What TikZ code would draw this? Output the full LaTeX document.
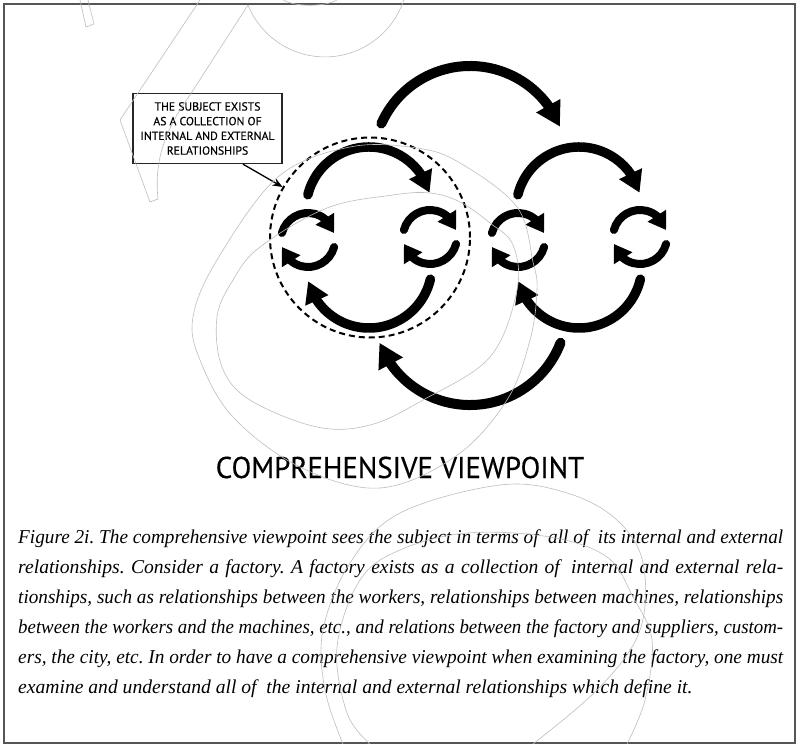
\documentclass[tikz,border=0pt]{standalone}
\usepackage{fontspec}
\setmainfont{Liberation Serif}
\newfontfamily\labelfont[FakeBold=0.3]{PT Sans}
\newfontfamily\headfont[FakeBold=0.4]{PT Sans}
\usetikzlibrary{arrows.meta,bending}
\frenchspacing

\definecolor{framegray}{HTML}{555555}
\definecolor{ghostgray}{HTML}{BEBEBE}

\tikzset{
  bigarc/.style={line width=10pt, line cap=round, -{Triangle[length=24pt,width=26pt]}},
  midarc/.style={line width=9.5pt, line cap=round, -{Triangle[length=21pt,width=24pt]}},
  spinarc/.style={line width=8pt, line cap=round, -{Triangle[length=17pt,width=21pt]}},
  ghost/.style={draw=ghostgray, line width=0.6pt},
  capstyle/.style={anchor=base west, inner sep=0pt, font=\itshape\fontsize{19.6}{30}\selectfont},
  spin/.pic={
    \draw[spinarc] (165:27) arc[start angle=165,end angle=15,radius=27];
    \draw[spinarc] (-15:27) arc[start angle=-15,end angle=-165,radius=27];
  },
}
% a justified caption line: spread when short, squeezed when long
\newcommand\capline[1]{\sbox0{#1}\ifdim\wd0>760pt\resizebox{765pt}{\height}{#1}\else\makebox[765pt][s]{#1}\fi}

\begin{document}
\begin{tikzpicture}[x=1pt,y=1pt]
\useasboundingbox (0,0) rectangle (796,-744);
\fill[white] (0,0) rectangle (796,-744);
\draw[framegray, line width=2pt] (4,-4) rectangle (795,-743);

% centres of the arcs
\coordinate (ot) at (470,-163);
\coordinate (ob) at (470,-308);
\coordinate (t1) at (369,-210);
\coordinate (b1) at (369,-265);
\coordinate (t2) at (579,-210);
\coordinate (b2) at (579,-265);

% the subject (dashed boundary) and its callout
\node[circle, draw, dashed, dash pattern=on 6pt off 4pt, line width=2pt,
      minimum size=200pt, inner sep=0pt] (subject) at (370,-237.5) {};
\node[draw=black!85, line width=1.3pt, minimum width=149pt, minimum height=70pt,
      inner sep=0pt, align=center,
      font=\labelfont\fontsize{11.7}{14.7}\selectfont] (note) at (207.5,-128.5)
      {THE SUBJECT EXISTS\\AS A COLLECTION OF\\INTERNAL AND EXTERNAL\\RELATIONSHIPS};
\draw[line width=1.3pt, -{Stealth[length=10pt,width=8pt]}] ([xshift=35.5pt]note.south) -- (subject);

% internal relationships: small cycles
\pic at (308,-240) {spin};
\pic at (430,-237) {spin};
\pic at (518,-240) {spin};
\pic at (640,-237) {spin};

% relationships between the parts of each whole
\draw[midarc] ([shift={(166:63)}]t1) arc[start angle=166,end angle=16,radius=63];
\draw[midarc] ([shift={(-13:63)}]b1) arc[start angle=-13,end angle=-165,radius=63];
\draw[midarc] ([shift={(166:63)}]t2) arc[start angle=166,end angle=16,radius=63];
\draw[midarc] ([shift={(-13:63)}]b2) arc[start angle=-13,end angle=-165,radius=63];

% external relationships between the two wholes
\draw[bigarc] ([shift={(156:97)}]ot) arc[start angle=156,end angle=22,radius=97];
\draw[bigarc] ([shift={(-21:97)}]ob) arc[start angle=-21,end angle=-159,radius=97];

% heading
\node[font=\headfont\fontsize{30}{30}\selectfont, anchor=base, inner sep=0pt] (title)
  at (400,-478) {\scalebox{0.963}[1]{COMPREHENSIVE VIEWPOINT}};

% caption
\node[capstyle] (cap1) at (18,-543) {\capline{Figure 2i. The comprehensive viewpoint sees the subject in terms of\hspace{0.25em} all of\hspace{0.25em} its internal and external}};
\node[capstyle] (cap2) at (18,-573) {\capline{relationships. Consider a factory. A factory exists as a collection of\hspace{0.25em} internal and external rela-}};
\node[capstyle] (cap3) at (18,-603) {\capline{tionships, such as relationships between the workers, relationships between machines, relationships}};
\node[capstyle] (cap4) at (18,-633) {\capline{between the workers and the machines, etc., and relations between the factory and suppliers, custom-}};
\node[capstyle] (cap5) at (18,-663) {\capline{ers, the city, etc. In order to have a comprehensive viewpoint when examining the factory, one must}};
\node[capstyle] (cap6) at (18,-693) {examine and understand all of\hspace{0.25em} the internal and external relationships which define it.};

% faint background linework
\draw[ghost] (80,0) -- (86,-27) -- (94,-24) -- (88,0);
\draw[ghost] (283,0) .. controls (295,-7) and (325,-7) .. (337,0);
\draw[ghost] (200,0) -- (120,-120) -- (150,-202) -- (158,-199)
  .. controls (154,-160) and (165,-130) .. (190,-95) -- (248,-5)
  arc[start angle=202,end angle=341.6,radius=83];
\draw[ghost] plot[smooth cycle, tension=0.6] coordinates {(193,-317) (200,-360) (233,-417) (300,-467) (380,-488) (456,-456) (507,-400) (530,-340) (537,-290) (533,-262) (517,-207) (460,-163) (417,-148) (350,-147) (278,-177) (217,-260)};
\draw[ghost] plot[smooth cycle, tension=0.6] coordinates {(217,-317) (222,-367) (250,-400) (317,-427) (370,-425) (423,-400) (490,-357) (517,-290) (513,-245) (490,-223) (460,-202) (430,-193) (393,-195) (327,-208) (260,-247) (233,-280)};
\draw[ghost] plot[smooth, tension=0.6] coordinates {(343,-744) (325,-690) (323,-630) (350,-563) (400,-513) (500,-485) (567,-493) (617,-520) (643,-563) (640,-630) (600,-687) (533,-744)};
\draw[ghost] plot[smooth, tension=0.6] coordinates {(370,-744) (347,-713) (337,-647) (360,-580) (400,-550) (467,-533) (550,-537) (607,-557) (633,-597) (652,-640) (645,-700) (627,-744)};
\end{tikzpicture}
\end{document}
